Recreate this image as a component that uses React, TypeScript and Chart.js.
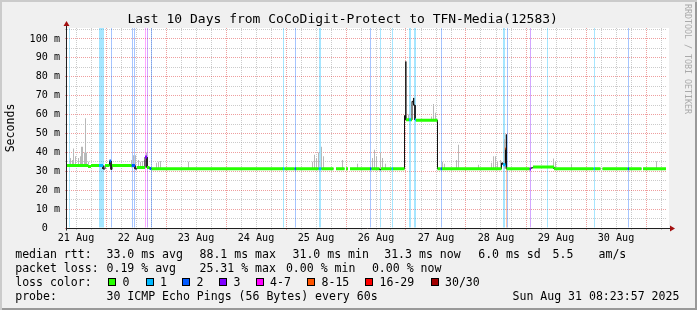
import React, { useEffect, useRef } from 'react';
import Chart from 'chart.js/auto';

const MONO = "'DejaVu Sans Mono', 'Liberation Mono', monospace";

// x axis: hours since 21 Aug 00:00 ; window = 21 Aug 08:24 -> 31 Aug 08:24
const X_MIN = 8.4;
const X_MAX = 248.4;
const Y_MAX = 105.8; // milliseconds

const dayTickHours = [12, 36, 60, 84, 108, 132, 156, 180, 204, 228];
const dayTickLabels = ['21 Aug', '22 Aug', '23 Aug', '24 Aug', '25 Aug', '26 Aug', '27 Aug', '28 Aug', '29 Aug', '30 Aug'];
const yTickValues = [0, 5, 10, 15, 20, 25, 30, 35, 40, 45, 50, 55, 60, 65, 70, 75, 80, 85, 90, 95, 100, 105];
const yTickLabels = ['0  ', '', '10 m', '', '20 m', '', '30 m', '', '40 m', '', '50 m', '', '60 m', '', '70 m', '', '80 m', '', '90 m', '', '100 m', ''];

const lossClassLabels = ['0', '1', '2', '3', '4-7', '8-15', '16-29', '30/30'];
const lossClassColors = ['#26ff00', '#00b8ff', '#0059ff', '#7e00ff', '#ff00ff', '#ff5500', '#ff0000', '#a10000'];

// median rtt, as runs: start hour, value (ms, null = no data), loss class (-1 = uncoloured)
const medianStart = [8.4, 16.8, 18.0, 21.2, 22.8, 23.6, 25.4, 26.0, 26.4, 34.2, 35.6, 36.4, 39.6, 40.4, 41.4, 42.2,
  94.8, 95.4, 99.4, 100.0, 109.0, 110.2, 115.0, 116.0, 119.4, 120.0, 120.8, 121.6, 129.6, 130.2, 133.4, 134.0, 138.2, 138.8,
  143.4, 143.8, 144.0, 145.2, 146.0, 146.4, 146.8, 147.2, 147.6, 148.0, 156.6, 157.8, 158.4,
  182.2, 182.8, 183.8, 184.0, 184.2, 193.4, 194.0, 194.8, 203.2, 219.0, 219.6, 221.8, 222.6, 232.6, 233.2, 238.2, 238.8, 248.0];
const medianValue = [33.0, 32.5, 33.0, 33.0, 31.2, 33.0, 35.5, 31.0, 33.0, 33.0, 31.2, 32.0, 37.5, 32.0, 31.5, 31.3,
  31.3, 31.3, 31.3, 31.3, 31.3, 31.3, null, 31.3, null, 31.3, null, 31.3, 31.3, 31.3, 30.8, 31.3, 31.3, 31.3,
  59.5, 88.1, 57.2, 57.2, 57.2, 67.0, 68.8, 65.0, 57.2, 57.0, 31.3, 31.3, 31.3,
  34.4, 33.5, 42.0, 49.5, 31.3, 31.2, 31.8, 32.3, 31.3, 31.3, 31.3, null, 31.3, 31.3, 31.3, null, 31.3, null];
const medianLoss = [0, 0, 0, 1, -1, 0, 2, -1, 0, 2, -1, 0, 3, 0, 2, 0,
  1, 0, 2, 0, 1, 0, -1, 0, -1, 0, -1, 0, 2, 0, -1, 0, 1, 0,
  -1, 0, 0, 1, 0, -1, 2, -1, 1, 0, 0, 2, 0,
  -1, 1, 5, -1, 0, 3, -1, 0, 0, 1, 0, -1, 0, 2, 0, -1, 0, -1];

// smoke (ping spread) spikes
const smokeHour = [9.8, 10.6, 11.0, 11.8, 13.0, 13.8, 14.2, 14.6, 15.4, 15.8, 16.2, 17.0,
  34.2, 35.0, 35.8, 37.0, 37.8, 38.6, 39.4, 40.2, 44.2, 45.0, 45.8, 57.0,
  106.6, 107.4, 108.2, 109.0, 110.2, 111.0, 118.6, 124.6, 130.6, 131.4, 132.2, 133.8, 134.6, 135.8,
  145.0, 154.2, 155.0, 155.8, 158.6, 159.4, 164.2, 165.0, 173.0,
  178.2, 179.0, 179.8, 180.6, 181.8, 183.4, 203.0, 203.8, 210.2, 244.2];
const smokeLow = [33, 33, 33, 33, 33, 33, 33, 33, 33, 33, 33, 33,
  32, 32, 32, 32, 32, 32, 32, 32, 31.3, 31.3, 31.3, 31.3,
  31.3, 31.3, 31.3, 31.3, 31.3, 31.3, 31.3, 31.3, 31.3, 31.3, 31.3, 31.3, 31.3, 31.3,
  57.2, 57.2, 57.2, 57.2, 31.3, 31.3, 31.3, 31.3, 31.3,
  31.3, 31.3, 31.3, 31.3, 31.3, 31.3, 31.3, 31.3, 31.3, 31.3];
const smokeHigh = [37, 36, 42, 38, 37, 38, 43, 43, 40, 58, 40, 35,
  36, 38.5, 38.5, 36, 35, 35.5, 36, 40, 34.5, 35, 35.5, 35,
  35, 38.8, 37, 40, 43, 38, 36, 34, 37, 41.4, 38, 39.8, 37, 34,
  60, 59, 65.6, 61, 35, 34, 36, 44, 33.5,
  34.5, 38, 38, 35, 36, 47, 36.7, 35, 34, 35.3];

// packet loss samples (full height marks)
const lossHour = [9.4, 21.4, 21.8, 22.2, 22.6, 23.0, 26.2, 34.6, 35.4, 39.8, 40.6, 42.2, 95.0, 99.8, 109.4, 109.8,
  129.8, 133.8, 138.6, 145.4, 145.8, 147.4, 147.8, 158.2, 183.0, 183.4, 184.6, 193.8, 200.6, 219.4, 233.0];
const lossClass = [1, 1, 1, 1, 1, 1, 2, 2, 2, 4, 3, 2, 1, 2, 1, 1,
  2, 1, 1, 1, 1, 1, 1, 2, 1, 1, 2, 3, 1, 1, 2];
const partialLossHour = [184.2];
const partialLossTop = [32.4];
const partialLossClass = [5];

const MINOR = 'rgba(140,140,140,0.45)';
const MAJOR = 'rgba(220,40,40,0.45)';

function tint(hex: string, a = 0.35) {
  const r = parseInt(hex.slice(1, 3), 16), g = parseInt(hex.slice(3, 5), 16), b = parseInt(hex.slice(5, 7), 16);
  return `rgba(${r},${g},${b},${a})`;
}

const canvasBg = {
  id: 'canvasBg',
  beforeDraw(chart: any) {
    const { ctx, chartArea: a } = chart;
    ctx.save();
    ctx.fillStyle = '#ffffff';
    ctx.fillRect(a.left, a.top, a.right - a.left + 2, a.bottom - a.top);
    ctx.restore();
  },
};

const axisArrows = {
  id: 'axisArrows',
  afterDraw(chart: any) {
    const { ctx, chartArea: a } = chart;
    const ax = Math.round(a.left) - 0.5;
    const ay = Math.round(a.bottom) + 0.5;
    ctx.save();
    ctx.strokeStyle = '#202020';
    ctx.lineWidth = 1;
    ctx.beginPath();
    ctx.moveTo(ax, ay + 2);
    ctx.lineTo(ax, a.top - 3);
    ctx.moveTo(a.right, ay);
    ctx.lineTo(a.right + 4, ay);
    ctx.stroke();
    ctx.fillStyle = '#a31010';
    ctx.beginPath();
    ctx.moveTo(ax, a.top - 7);
    ctx.lineTo(ax - 3, a.top - 2);
    ctx.lineTo(ax + 3, a.top - 2);
    ctx.closePath();
    ctx.fill();
    ctx.beginPath();
    ctx.moveTo(a.right + 8, ay);
    ctx.lineTo(a.right + 3, ay - 3);
    ctx.lineTo(a.right + 3, ay + 3);
    ctx.closePath();
    ctx.fill();
    ctx.restore();
  },
};

function Txt({ x, b, fs, children, color }: any) {
  return (
    <div style={{ position: 'absolute', left: x, top: b - 0.346 * fs, fontFamily: MONO, fontSize: fs, lineHeight: 0, whiteSpace: 'pre', color: color || '#000' }}>
      {children}
    </div>
  );
}

const LEG = 11.56;
const line1 = [[15.2, 'median rtt:'], [106.5, '33.0 ms avg'], [199.5, '88.1 ms max'], [292.5, '31.0 ms min'], [384.2, '31.3 ms now'], [478.2, '6.0 ms sd'], [552.5, '5.5'], [598.5, 'am/s']];
const line2 = [[15.2, 'packet loss:'], [106.5, '0.19 % avg'], [199.5, '25.31 % max'], [285.9, '0.00 % min'], [371.9, '0.00 % now']];
const line4 = [[15.2, 'probe:'], [106.5, '30 ICMP Echo Pings (56 Bytes) every 60s'], [512.5, 'Sun Aug 31 08:23:57 2025']];
const swatchX = [108, 145.5, 182, 219, 255.5, 307, 365, 430.5];

export default function App() {
  const canvasRef = useRef<HTMLCanvasElement | null>(null);

  useEffect(() => {
    const canvas = canvasRef.current;
    if (!canvas) return;
    const datasets: any[] = [];

    lossClassColors.forEach((color, cls) => {
      const pts: any[] = [];
      for (let i = 0; i < medianStart.length - 1; i++) {
        const v = medianValue[i];
        if (v === null || medianLoss[i] !== cls) continue;
        const end = medianStart[i + 1];
        pts.push({ x: medianStart[i], y: v }, { x: end, y: v }, { x: end, y: null });
      }
      if (pts.length) {
        datasets.push({ type: 'line', data: pts, borderColor: color, borderWidth: 3, borderCapStyle: 'butt', pointRadius: 0, spanGaps: false, order: 1 });
      }
    });

    const blackPts: any[] = [];
    for (let i = 0; i < medianStart.length - 1; i++) {
      const v = medianValue[i];
      if (v === null) continue;
      const end = medianStart[i + 1];
      blackPts.push({ x: medianStart[i], y: v }, { x: end, y: v });
      if (medianValue[i + 1] === null) blackPts.push({ x: end, y: null });
    }
    datasets.push({ type: 'line', data: blackPts, borderColor: '#111111', borderWidth: 1, pointRadius: 0, spanGaps: false, order: 2 });

    datasets.push({
      type: 'bar', order: 3, grouped: false, barThickness: 1, inflateAmount: 0, borderWidth: 0,
      data: smokeHour.map((h, i) => ({ x: h, y: [smokeLow[i], smokeHigh[i]] })),
      backgroundColor: '#b8b8b8',
    });
    datasets.push({
      type: 'bar', order: 4, grouped: false, barThickness: 1, inflateAmount: 0, borderWidth: 0,
      data: lossHour.map((h) => ({ x: h, y: [0, Y_MAX] })),
      backgroundColor: lossClass.map((c) => tint(lossClassColors[c])),
    });
    datasets.push({
      type: 'bar', order: 4, grouped: false, barThickness: 1, inflateAmount: 0, borderWidth: 0,
      data: partialLossHour.map((h, i) => ({ x: h, y: [0, partialLossTop[i]] })),
      backgroundColor: partialLossClass.map((c) => tint(lossClassColors[c])),
    });

    const xGrid: number[] = [];
    for (let h = 12; h < X_MAX; h += 6) xGrid.push(h);

    const chart = new Chart(canvas, {
      type: 'line',
      data: { datasets },
      options: {
        animation: false,
        responsive: false,
        maintainAspectRatio: false,
        devicePixelRatio: 1,
        events: [],
        layout: { padding: { left: 0, right: 30, top: 28, bottom: 0 } },
        plugins: { legend: { display: false }, tooltip: { enabled: false }, title: { display: false } },
        scales: {
          x: {
            type: 'linear', min: X_MIN, max: X_MAX, offset: false,
            afterBuildTicks: (s: any) => { s.ticks = xGrid.map((v) => ({ value: v })); },
            afterFit: (s: any) => { s.height = 82; },
            ticks: {
              autoSkip: false, maxRotation: 0, minRotation: 0, padding: 2, color: '#000',
              font: { family: MONO, size: 10.1 },
              callback: (v: any) => { const i = dayTickHours.indexOf(v); return i >= 0 ? dayTickLabels[i] : ''; },
            },
            grid: {
              offset: false, lineWidth: 1, tickLength: 2,
              color: (c: any) => (c.tick && c.tick.value % 24 === 0 ? MAJOR : MINOR),
              tickColor: (c: any) => (c.tick && c.tick.value % 24 === 0 ? MAJOR : MINOR),
            },
            border: { display: true, color: '#202020', width: 1, dash: [1, 1] },
          },
          y: {
            type: 'linear', min: 0, max: Y_MAX,
            afterBuildTicks: (s: any) => { s.ticks = yTickValues.map((v) => ({ value: v })); },
            afterFit: (s: any) => { s.width = 67; },
            ticks: {
              autoSkip: false, padding: 5, color: '#000',
              font: { family: MONO, size: 10.1 },
              callback: (_v: any, i: number) => yTickLabels[i] ?? '',
            },
            grid: {
              lineWidth: 1, tickLength: 2,
              color: (c: any) => (c.tick && c.tick.value % 10 === 0 ? MAJOR : MINOR),
              tickColor: (c: any) => (c.tick && c.tick.value % 10 === 0 ? MAJOR : MINOR),
            },
            border: { display: false, dash: [1, 1] },
            title: { display: true, text: 'Seconds', color: '#000', font: { family: MONO, size: 11.56 }, padding: { top: 4, bottom: 0 } },
          },
        },
      } as any,
      plugins: [canvasBg, axisArrows],
    } as any);

    return () => chart.destroy();
  }, []);

  return (
    <div style={{ position: 'fixed', left: 0, top: 0, width: 697, height: 310, background: '#f0f0f0', boxShadow: 'inset 2px 2px 0 #cbcbcb, inset -2px -2px 0 #999999', overflow: 'hidden' }}>
      <canvas ref={canvasRef} width={697} height={310} style={{ position: 'absolute', left: 0, top: 0, width: 697, height: 310 }} />
      <Txt x={127.4} b={23.8} fs={13}>Last 10 Days from CoCoDigit-Protect to TFN-Media(12583)</Txt>
      {line1.map(([x, t]: any) => <Txt key={'a' + t} x={x} b={258.3} fs={LEG}>{t}</Txt>)}
      {line2.map(([x, t]: any) => <Txt key={'b' + t} x={x} b={272.3} fs={LEG}>{t}</Txt>)}
      <Txt x={15.2} b={286} fs={LEG}>loss color:</Txt>
      {lossClassLabels.map((lab, i) => (
        <React.Fragment key={'c' + lab}>
          <div style={{ position: 'absolute', left: swatchX[i], top: 278, width: 8, height: 8, boxSizing: 'border-box', border: '1px solid #000', background: lossClassColors[i] }} />
          <Txt x={swatchX[i] + 14.5} b={286} fs={LEG}>{lab}</Txt>
        </React.Fragment>
      ))}
      {line4.map(([x, t]: any) => <Txt key={'d' + t} x={x} b={300} fs={LEG}>{t}</Txt>)}
      <div style={{ position: 'absolute', left: 683, top: 4, width: 10, writingMode: 'vertical-rl', fontFamily: MONO, fontSize: 8.3, lineHeight: '10px', color: '#aaaaaa', whiteSpace: 'pre' }}>RRDTOOL / TOBI OETIKER</div>
    </div>
  );
}
